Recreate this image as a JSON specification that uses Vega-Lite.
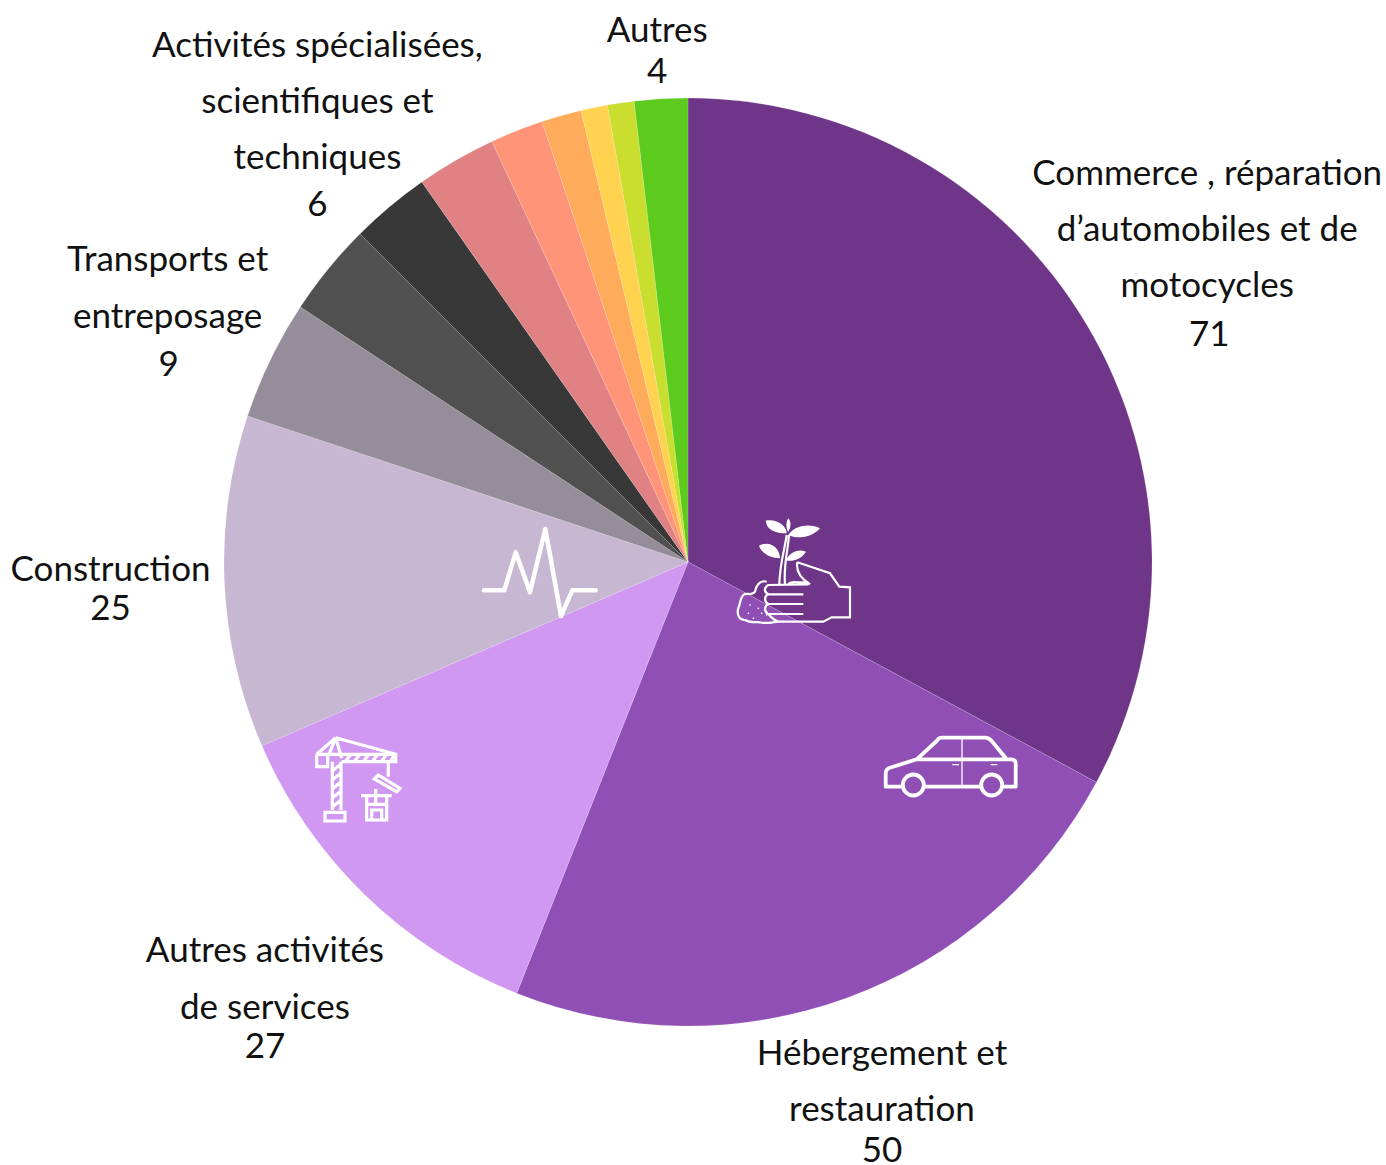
{"$schema":"https://vega.github.io/schema/vega-lite/v6.json","width":1376,"height":1124,"autosize":{"type":"none"},"padding":{"left":0,"top":0,"right":10,"bottom":41},"background":"white","config":{"view":{"stroke":null},"text":{"font":"Lato","fontSize":35,"fill":"#111111","lineBreak":"|"}},"datasets":{"secteurs":[{"rank":1,"secteur":"Commerce , réparation d’automobiles et de motocycles","nom":"Commerce , réparation|d’automobiles et de|motocycles","valeur":71},{"rank":2,"secteur":"Hébergement et restauration","nom":"Hébergement et|restauration","valeur":50},{"rank":3,"secteur":"Autres activités de services","nom":"Autres activités|de services","valeur":27},{"rank":4,"secteur":"Construction","nom":"Construction","valeur":25},{"rank":5,"secteur":"Transports et entreposage","nom":"Transports et|entreposage","valeur":9},{"rank":6,"secteur":"Secteur 6","nom":"","valeur":7},{"rank":7,"secteur":"Activités spécialisées, scientifiques et techniques","nom":"Activités spécialisées,|scientifiques et|techniques","valeur":6},{"rank":8,"secteur":"Secteur 8","nom":"","valeur":6},{"rank":9,"secteur":"Secteur 9","nom":"","valeur":4},{"rank":10,"secteur":"Secteur 10","nom":"","valeur":3},{"rank":11,"secteur":"Secteur 11","nom":"","valeur":2},{"rank":12,"secteur":"Secteur 12","nom":"","valeur":2},{"rank":13,"secteur":"Autres","nom":"Autres","valeur":4}],"icones":[{"icone":"voiture","x":262,"y":204},{"icone":"pouls","x":-148,"y":10},{"icone":"grue","x":-331,"y":215},{"icone":"plante","x":102,"y":8}]},"data":{"name":"secteurs"},"layer":[{"mark":{"type":"arc","radius":464,"stroke":"#ffffff","strokeWidth":0.15},"encoding":{"theta":{"field":"valeur","type":"quantitative","stack":true},"order":{"field":"rank","type":"quantitative"},"color":{"field":"secteur","type":"nominal","legend":null,"scale":{"domain":["Commerce , réparation d’automobiles et de motocycles","Hébergement et restauration","Autres activités de services","Construction","Transports et entreposage","Secteur 6","Activités spécialisées, scientifiques et techniques","Secteur 8","Secteur 9","Secteur 10","Secteur 11","Secteur 12","Autres"],"range":["#6E3589","#8F4FB4","#D198F2","#C7B7D2","#958D9A","#505050","#383838","#E08184","#FF9478","#FFAB5C","#FFD24F","#C9DE2F","#5CCB1E"]}}}},
{"mark":{"type":"text","radius":600,"dx":4,"dy":-80,"lineHeight":56},"encoding":{"theta":{"field":"valeur","type":"quantitative","stack":true},"order":{"field":"rank","type":"quantitative"},"detail":{"field":"secteur"},"text":{"condition":{"test":"datum.rank==1","field":"nom"},"value":""}}},
{"mark":{"type":"text","radius":600,"dx":6,"dy":81},"encoding":{"theta":{"field":"valeur","type":"quantitative","stack":true},"order":{"field":"rank","type":"quantitative"},"detail":{"field":"secteur"},"text":{"condition":{"test":"datum.rank==1","field":"valeur","type":"quantitative"},"value":""}}},
{"mark":{"type":"text","radius":570,"dx":-1,"dy":-44,"lineHeight":56},"encoding":{"theta":{"field":"valeur","type":"quantitative","stack":true},"order":{"field":"rank","type":"quantitative"},"detail":{"field":"secteur"},"text":{"condition":{"test":"datum.rank==2","field":"nom"},"value":""}}},
{"mark":{"type":"text","radius":570,"dx":-1,"dy":53},"encoding":{"theta":{"field":"valeur","type":"quantitative","stack":true},"order":{"field":"rank","type":"quantitative"},"detail":{"field":"secteur"},"text":{"condition":{"test":"datum.rank==2","field":"valeur","type":"quantitative"},"value":""}}},
{"mark":{"type":"text","radius":600,"dx":-5,"dy":-41,"lineHeight":57},"encoding":{"theta":{"field":"valeur","type":"quantitative","stack":true},"order":{"field":"rank","type":"quantitative"},"detail":{"field":"secteur"},"text":{"condition":{"test":"datum.rank==3","field":"nom"},"value":""}}},
{"mark":{"type":"text","radius":600,"dx":-5,"dy":55},"encoding":{"theta":{"field":"valeur","type":"quantitative","stack":true},"order":{"field":"rank","type":"quantitative"},"detail":{"field":"secteur"},"text":{"condition":{"test":"datum.rank==3","field":"valeur","type":"quantitative"},"value":""}}},
{"mark":{"type":"text","radius":578,"dy":-17},"encoding":{"theta":{"field":"valeur","type":"quantitative","stack":true},"order":{"field":"rank","type":"quantitative"},"detail":{"field":"secteur"},"text":{"condition":{"test":"datum.rank==4","field":"nom"},"value":""}}},
{"mark":{"type":"text","radius":578,"dy":22},"encoding":{"theta":{"field":"valeur","type":"quantitative","stack":true},"order":{"field":"rank","type":"quantitative"},"detail":{"field":"secteur"},"text":{"condition":{"test":"datum.rank==4","field":"valeur","type":"quantitative"},"value":""}}},
{"mark":{"type":"text","radius":577,"dx":-1,"dy":-51,"lineHeight":57},"encoding":{"theta":{"field":"valeur","type":"quantitative","stack":true},"order":{"field":"rank","type":"quantitative"},"detail":{"field":"secteur"},"text":{"condition":{"test":"datum.rank==5","field":"nom"},"value":""}}},
{"mark":{"type":"text","radius":577,"dy":54},"encoding":{"theta":{"field":"valeur","type":"quantitative","stack":true},"order":{"field":"rank","type":"quantitative"},"detail":{"field":"secteur"},"text":{"condition":{"test":"datum.rank==5","field":"valeur","type":"quantitative"},"value":""}}},
{"mark":{"type":"text","radius":575,"dx":-1,"dy":-76,"lineHeight":56},"encoding":{"theta":{"field":"valeur","type":"quantitative","stack":true},"order":{"field":"rank","type":"quantitative"},"detail":{"field":"secteur"},"text":{"condition":{"test":"datum.rank==7","field":"nom"},"value":""}}},
{"mark":{"type":"text","radius":575,"dx":-1,"dy":83},"encoding":{"theta":{"field":"valeur","type":"quantitative","stack":true},"order":{"field":"rank","type":"quantitative"},"detail":{"field":"secteur"},"text":{"condition":{"test":"datum.rank==7","field":"valeur","type":"quantitative"},"value":""}}},
{"mark":{"type":"text","radius":513,"dx":-1,"dy":-19},"encoding":{"theta":{"field":"valeur","type":"quantitative","stack":true},"order":{"field":"rank","type":"quantitative"},"detail":{"field":"secteur"},"text":{"condition":{"test":"datum.rank==13","field":"nom"},"value":""}}},
{"mark":{"type":"text","radius":513,"dx":-1,"dy":22},"encoding":{"theta":{"field":"valeur","type":"quantitative","stack":true},"order":{"field":"rank","type":"quantitative"},"detail":{"field":"secteur"},"text":{"condition":{"test":"datum.rank==13","field":"valeur","type":"quantitative"},"value":""}}},
{"data":{"name":"icones"},"transform":[{"filter":"datum.icone=='voiture'"}],"mark":{"type":"point","filled":false,"size":4,"stroke":"#ffffff","strokeWidth":3.8,"strokeJoin":"round","opacity":1,"shape":"M-48.3 20.7 L-64.3 20.7 L-64.3 7.3 C-64.3 4 -62 2.3 -60 1.7 L-33.3 -6.7 L-13.3 -25 C-12 -27 -10 -28.3 -8.3 -28.3 L35 -28.3 C38 -28.3 40 -27 41.7 -25 L56.7 -6.7 L61.7 -6.7 C64 -6.7 65.7 -5 65.7 -2.7 L65.7 20.7 L53.3 20.7 M30 20.7 L-25 20.7 M-33.3 -6.7 L56.7 -6.7 M-26.2 19 A10.5 10.5 0 1 1 -47.2 19 A10.5 10.5 0 1 1 -26.2 19 Z M52.2 19 A10.5 10.5 0 1 1 31.2 19 A10.5 10.5 0 1 1 52.2 19 Z"},"encoding":{"x":{"field":"x","type":"quantitative","axis":null,"scale":{"domain":[-688,688],"nice":false,"zero":false}},"y":{"field":"y","type":"quantitative","axis":null,"scale":{"domain":[-562,562],"reverse":true,"nice":false,"zero":false}}}},
{"data":{"name":"icones"},"transform":[{"filter":"datum.icone=='voiture'"}],"mark":{"type":"point","filled":false,"size":4,"stroke":"#ffffff","strokeWidth":1.3,"opacity":1,"shape":"M12 -28 L12 20.7 M2.3 -1.3 L9 -1.3 M40.7 -1.3 L47.3 -1.3"},"encoding":{"x":{"field":"x","type":"quantitative"},"y":{"field":"y","type":"quantitative"}}},
{"data":{"name":"icones"},"transform":[{"filter":"datum.icone=='pouls'"}],"mark":{"type":"point","filled":false,"size":4,"stroke":"#ffffff","strokeWidth":4.5,"strokeJoin":"round","strokeCap":"round","opacity":1,"shape":"M-56 18.3 L-35.7 18.3 L-24.3 -19.7 L-10 20.3 L5.3 -43 L21 44 L32.3 18.3 L55.7 18.3"},"encoding":{"x":{"field":"x","type":"quantitative"},"y":{"field":"y","type":"quantitative"}}},
{"data":{"name":"icones"},"transform":[{"filter":"datum.icone=='grue'"}],"mark":{"type":"point","filled":false,"size":4,"stroke":"#ffffff","strokeWidth":3.2,"opacity":1,"shape":"M-40.3 -22.7 L-40.3 -10.3 L-29.3 -10.3 L-29.3 -22.7 M-40.3 -22.7 L38.7 -22.7 L38.7 -15.3 L-15.3 -15.3 M-21.3 -39.3 L-40.3 -22.7 M-21.3 -39.3 L38.7 -22.7 M-21.3 -39.3 L-15.3 -18.7 M-21.3 -39.3 L-28 -22.7 M-24.7 -15.3 L-24.7 33 M-16 -15.3 L-16 33 M-32 35.3 L-12 35.3 L-12 44 L-32 44 Z M31.3 -15.3 L31.3 -0.3 M21.3 -2 L43 11.3 L39.7 14.7 L17.3 2 Z M4 18.7 L34.7 18.7 M9.7 18.7 L9.7 43 L29.7 43 L29.7 18.7 M18.7 12 L18.7 27.3 M9.7 27.3 L29.7 27.3 M14.7 43 L14.7 33 L24.7 33 L24.7 43 M-12 -15.3 L-6 -22.7 M-3 -15.3 L3 -22.7 M6 -15.3 L12 -22.7 M15 -15.3 L21 -22.7 M24 -15.3 L30 -22.7 M33 -15.3 L38 -22.7 M-24.7 -6 L-16 -13 M-24.7 3 L-16 -4 M-24.7 12 L-16 5 M-24.7 21 L-16 14 M-24.7 30 L-16 23"},"encoding":{"x":{"field":"x","type":"quantitative"},"y":{"field":"y","type":"quantitative"}}},
{"data":{"name":"icones"},"transform":[{"filter":"datum.icone=='plante'"}],"mark":{"type":"point","filled":false,"size":4,"stroke":"#ffffff","strokeWidth":2.2,"opacity":1,"shape":"M7.3 -7.7 L40 3.3 L49.3 16.7 L60 17.3 L60 47.3 L41.7 47.3 L33.3 51.7 L-11.7 51.7 M13.3 24.3 L-21.7 24.3 C-26 26 -26 32 -21.7 34 L13.3 34 M-21.7 34 C-26 36 -26 42 -21.7 44 L13.3 44 M18.3 14.3 L-21.7 15 C-26.5 18 -26 22 -21.7 24.3 M7.3 -7.7 C6 0 10 8 20 14.3 M-21.7 44 C-19 47 -17 50 -11.7 51.7 M-10.7 14.3 C-10 -8.3 -5 -21.7 -3.3 -35 M-5 14.3 C-6.7 -5 -1.7 -21.7 -1 -35 M-23.3 11.7 C-28.3 10 -33.3 13.3 -35 21.7 C-38.3 26.7 -43.3 21.7 -46.7 25 C-50 28.3 -50 35 -51.7 38.3 C-53.3 43.3 -51.7 50 -45 50 C-40 53.3 -33.3 51.7 -30 52.3 C-23.3 54.3 -16.7 51.7 -11.7 51.7 M-1.7 14.3 C1.7 10 6.7 13.3 11.7 12.3 C15 12.3 17.3 13.3 19.3 13.7"},"encoding":{"x":{"field":"x","type":"quantitative"},"y":{"field":"y","type":"quantitative"}}},
{"data":{"name":"icones"},"transform":[{"filter":"datum.icone=='plante'"}],"mark":{"type":"point","filled":true,"size":4,"fill":"#ffffff","opacity":1,"shape":"M-24.3 -49.3 C-15 -51.7 -3.3 -45 -3.3 -36.7 C-15 -36.7 -23.3 -40 -24.3 -49.3 Z M-1.7 -35 C5 -45 20 -46.7 30 -41.7 C23.3 -33.3 8.3 -30 -1.7 -35 Z M-1.7 -51.7 C-5 -46.7 -3.3 -40 -1.7 -38.3 C0.7 -41.7 1.7 -48.3 -1.7 -51.7 Z M-31 -24.3 C-21.7 -30 -10 -23.3 -10 -11.7 C-20 -11.7 -28.3 -16.7 -31 -24.3 Z M-4.3 -9.3 C0 -18.3 8.3 -21.7 16 -18.3 C11.7 -11.7 5 -8.3 -4.3 -9.3 Z M-40 34 L-39 35 L-40 36 L-41 35 Z M-31.7 37.3 L-30.7 38.3 L-31.7 39.3 L-32.7 38.3 Z M-41.7 42.3 L-40.7 43.3 L-41.7 44.3 L-42.7 43.3 Z M-36.7 47.3 L-35.7 48.3 L-36.7 49.3 L-37.7 48.3 Z M-28.3 42.3 L-27.3 43.3 L-28.3 44.3 L-29.3 43.3 Z M-23.3 44 L-22.3 45 L-23.3 46 L-24.3 45 Z"},"encoding":{"x":{"field":"x","type":"quantitative"},"y":{"field":"y","type":"quantitative"}}}]}
